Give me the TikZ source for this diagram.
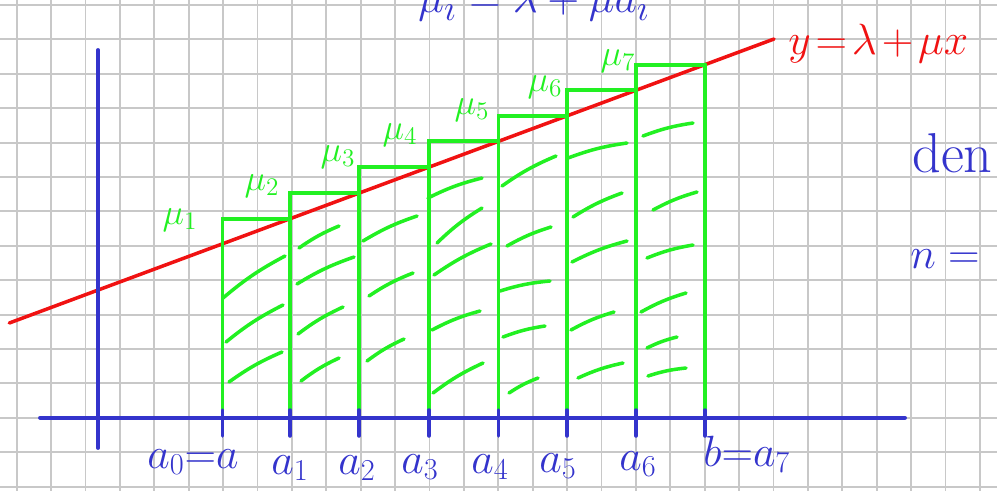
\documentclass[tikz,border=0pt]{standalone}
\usetikzlibrary{positioning}
\definecolor{InkBlue}{HTML}{3434CC}
\definecolor{InkRed}{HTML}{F01212}
\definecolor{InkGreen}{HTML}{22F022}
\definecolor{PaperGrid}{HTML}{C8C8C8}

\begin{document}
\begin{tikzpicture}[x=0.02cm,y=-0.02cm,
          gridline/.style={draw=PaperGrid,line width=1.1pt},
          axis/.style={draw=InkBlue,line width=2.2pt,line cap=round},
          tick/.style={draw=InkBlue,line width=2pt,line cap=round},
          graph/.style={draw=InkRed,line width=2pt,line cap=round},
          bar/.style={draw=InkGreen,line width=2.2pt,line cap=round},
          hatch/.style={draw=InkGreen,line width=2pt,line cap=round},
          mulabel/.style={text=InkGreen,inner sep=0pt,
                          font=\fontsize{20}{24}\selectfont},
          axlabel/.style={text=InkBlue,inner sep=0pt,anchor=base,
                          font=\fontsize{23}{27}\selectfont},
          note/.style={text=InkBlue,inner sep=0pt,anchor=base west,
                       font=\fontsize{32}{38}\selectfont}]
        \useasboundingbox (0,0) rectangle (997,491);
        \clip (0,0) rectangle (997,491);
        % squared paper
        \foreach \k in {0,...,28}
          \draw[gridline] ({16.7+34.4*\k},0) -- ({16.7+34.4*\k},491);
        \foreach \k in {0,...,14}
          \draw[gridline] (0,{5+34.4*\k}) -- (997,{5+34.4*\k});
        % the line y = lambda + mu x
        \coordinate (lineStart) at (9.3,323);
        \coordinate (lineEnd) at (774,39);
        \draw[graph] (lineStart) -- (lineEnd);
        \node[text=InkRed,inner sep=0pt,anchor=base west,
              font=\fontsize{34}{40}\selectfont] (lineEq) at (788,54)
          {$y\mkern2mu{=}\mkern2mu\lambda\mkern2mu{+}\mkern2mu\mu x$};
        % upper step function, one bar per subinterval
        \foreach \i/\xl/\xr/\top/\mx/\my in {1/222.5/290/218.7/180/220,
            2/290/359/193.1/262/186,3/359/429/167.1/338/157,
            4/429/498.5/141.3/400/135,5/498.5/567/115.9/472/110,
            6/567/636/90.2/545/87,7/636/705/64.6/618/61}{%
          \draw[bar] (\xl,417) |- (\xr,\top);
          \node[mulabel] (mu\i) at (\mx,\my) {$\mu_{\i}$};
        }
        \draw[bar] (705,417) -- (705,64.6);
        % hatching inside the bars
        \foreach \xa/\ya/\xb/\yb in {223/298/285/256,226/342/283/305,
            229/382/282/352,299/248/339/226,297/284/354/257,298/334/343/307,
            301/381/339/358,363/241/417/216,369/296/413/273,367/361/404/339,
            428/198/482/178,437/243/482/208,434/275/491/244,432/330/480/311,
            433/393/483/363,502/186/556/156,507/246/551/227,500/291/550/281,
            503/337/545/326,509/393/538/378,568/158/627/143,573/217/622/193,
            572/262/627/241,571/330/614/312,578/378/623/363,643/136/693/123,
            653/210/697/192,647/258/693/245,641/312/686/293,647/348/677/337,
            648/376/686/368}
          \draw[hatch] (\xa,\ya) to[bend left=6] (\xb,\yb);
        % axes
        \coordinate (xFrom) at (40,417.7);
        \coordinate (xTo) at (905,417.7);
        \coordinate (yFrom) at (98,448);
        \coordinate (yTo) at (98,50);
        \draw[axis] (xFrom) -- (xTo);
        \draw[axis] (yFrom) -- (yTo);
        \foreach \x in {222.5,290,359,429,498.5,567,636,705}
          \draw[tick] (\x,410) -- (\x,436);
        % partition points
        \node[axlabel,anchor=base west] (pt0) at (147,468) {$a_0{=}a$};
        \foreach \i/\x/\y in {1/290/474,2/357/474,3/420/473,4/490/473,
            5/558/472,6/638/470}
          \node[axlabel] (pt\i) at (\x,\y) {$a_{\i}$};
        \node[axlabel,anchor=base west] (pt7) at (703,466) {$b{=}a_7$};
        % margin notes, cut by the page edge
        \node[note] (topNote) at (418,12) {$\mu_i=\lambda+\mu a_i$};
        \node[note] (denNote) at (912,172) {den};
        \node[note] (nNote) at (910,268) {$n=$};
      \end{tikzpicture}
\end{document}
